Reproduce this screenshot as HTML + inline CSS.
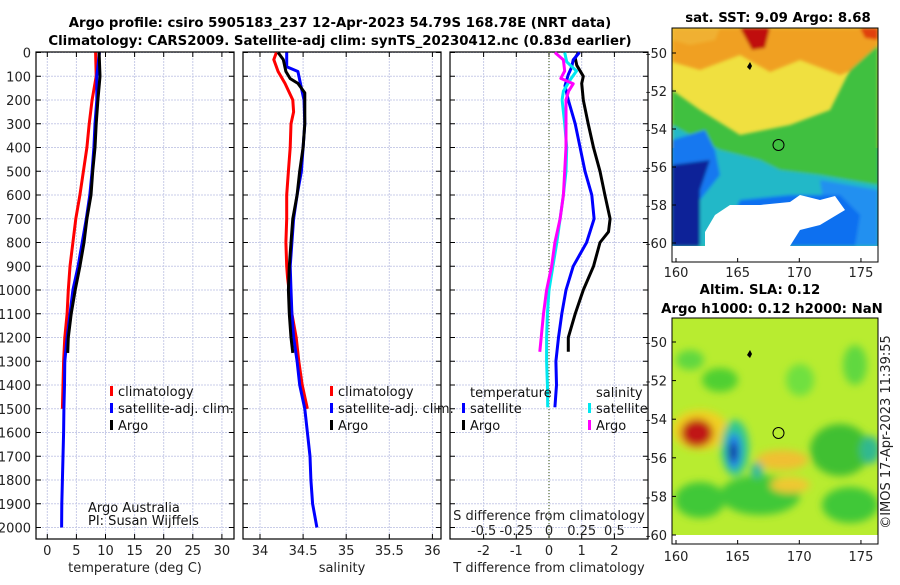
<!DOCTYPE html>
<html><head><meta charset="utf-8"><style>
body{margin:0;background:#fff;}
svg{font-family:"DejaVu Sans","Liberation Sans",sans-serif;}
.t{font-weight:bold;font-size:13.3px;fill:#000;}
.tk{font-size:13px;fill:#222;}
.lg{font-size:13px;fill:#111;}
</style></head><body>
<svg id="c" width="900" height="580" xmlns="http://www.w3.org/2000/svg">
<defs>
<filter id="bl" x="-20%" y="-20%" width="140%" height="140%"><feGaussianBlur stdDeviation="4"/></filter>
<filter id="bl2" x="-20%" y="-20%" width="140%" height="140%"><feGaussianBlur stdDeviation="1.5"/></filter>
<clipPath id="cm1"><rect x="672" y="28" width="206" height="218"/></clipPath>
<clipPath id="cm2"><rect x="672" y="318" width="206" height="217"/></clipPath>
</defs>
<text class="t" x="340" y="27" text-anchor="middle">Argo profile: csiro 5905183_237 12-Apr-2023 54.79S 168.78E (NRT data)</text>
<text class="t" x="340" y="45" text-anchor="middle">Climatology: CARS2009. Satellite-adj clim: synTS_20230412.nc (0.83d earlier)</text>
<g id="panels"></g>

<!-- Map 1 SST -->
<g>
<text class="t" x="778" y="22" text-anchor="middle" font-size="12.5">sat. SST: 9.09 Argo: 8.68</text>
<g clip-path="url(#cm1)">
<rect x="672" y="28" width="206" height="218" fill="#30c8a0"/>
<rect x="672" y="28" width="206" height="120" fill="#f0e040"/>
<g filter="url(#bl2)">
<polygon points="672,28 878,28 878,60 840,75 800,60 770,72 740,55 700,70 672,62" fill="#f0a020"/>
<polygon points="740,28 770,28 765,48 752,50" fill="#c01010"/>
<polygon points="672,28 720,28 715,40 690,45 672,40" fill="#f0b030"/>
<polygon points="860,28 878,28 878,40 865,38" fill="#e04010"/>
<polygon points="672,90 700,110 740,135 790,125 830,110 850,70 878,45 878,200 672,200" fill="#40c040"/>
<polygon points="672,125 700,140 720,150 760,160 780,170 820,175 878,185 878,246 672,246" fill="#20b8c8"/>
<polygon points="672,140 705,130 715,150 720,175 700,200 690,246 672,246" fill="#1878f0"/>
<polygon points="672,165 710,160 700,190 700,246 672,246" fill="#082098"/>
<polygon points="820,180 878,190 878,246 830,246" fill="#2090f0"/>
<polygon points="740,200 790,195 840,195 860,215 855,246 720,246" fill="#1070f0"/>
</g>
<polygon points="715,215 730,205 760,205 790,202 800,195 820,200 835,196 845,210 820,225 800,230 790,246 705,246 705,232" fill="#ffffff"/>
<path d="M750,62 l2,4 l-2,4 l-3,-3z" fill="#000"/>
<circle cx="778.5" cy="145" r="5.5" fill="none" stroke="#000" stroke-width="1"/>
</g>
<rect x="672" y="28" width="206" height="234" fill="none" stroke="#000" stroke-width="1"/>
<g id="m1ax"></g>
</g>

<!-- Map 2 SLA -->
<g>
<text class="t" x="760" y="294" text-anchor="middle" font-size="12.5">Altim. SLA: 0.12</text>
<text class="t" x="772" y="313" text-anchor="middle" font-size="12">Argo h1000: 0.12 h2000: NaN</text>
<g clip-path="url(#cm2)">
<rect x="672" y="318" width="206" height="217" fill="#b8ec30"/>
<g filter="url(#bl)">
<ellipse cx="690" cy="360" rx="14" ry="10" fill="#60d840"/>
<ellipse cx="720" cy="380" rx="18" ry="12" fill="#50d030"/>
<ellipse cx="800" cy="380" rx="14" ry="16" fill="#70e040"/>
<ellipse cx="855" cy="365" rx="12" ry="20" fill="#60d840"/>
<ellipse cx="700" cy="430" rx="28" ry="20" fill="#f0d020"/>
<ellipse cx="697" cy="433" rx="16" ry="14" fill="#c01818"/>
<ellipse cx="735" cy="448" rx="14" ry="28" fill="#30c890"/>
<ellipse cx="734" cy="451" rx="7" ry="18" fill="#2080f0"/>
<ellipse cx="733" cy="452" rx="4" ry="10" fill="#102890"/>
<ellipse cx="782" cy="460" rx="26" ry="10" fill="#f0c030"/>
<ellipse cx="840" cy="450" rx="30" ry="26" fill="#40c030"/>
<ellipse cx="870" cy="450" rx="10" ry="14" fill="#30b890"/>
<ellipse cx="760" cy="495" rx="40" ry="20" fill="#40c838"/>
<ellipse cx="790" cy="485" rx="20" ry="8" fill="#f0c830"/>
<ellipse cx="850" cy="505" rx="28" ry="18" fill="#40c838"/>
<ellipse cx="700" cy="500" rx="25" ry="18" fill="#40c838"/>
<ellipse cx="757" cy="470" rx="6" ry="8" fill="#30b8a0"/>
</g>
<path d="M750,350 l2,4 l-2,4 l-3,-3z" fill="#000"/>
<circle cx="778.5" cy="433" r="5.5" fill="none" stroke="#000" stroke-width="1"/>
</g>
<rect x="672" y="318" width="206" height="226" fill="none" stroke="#000" stroke-width="1"/>
<g id="m2ax"></g>
</g>
<text x="890" y="432" font-size="13" fill="#222" text-anchor="middle" transform="rotate(-90 890 432)">©IMOS 17-Apr-2023 11:39:55</text>
</svg>
<script>
const NS='http://www.w3.org/2000/svg';
const svg=document.getElementById('c');
const P=document.getElementById('panels');
function mk(tag,attrs,parent){const e=document.createElementNS(NS,tag);for(const k in attrs)e.setAttribute(k,attrs[k]);(parent||P).appendChild(e);return e;}

// ---- data ----
const depthTicks=[0,100,200,300,400,500,600,700,800,900,1000,1100,1200,1300,1400,1500,1600,1700,1800,1900,2000];
const tempTicks=[0,5,10,15,20,25,30];
const salTicks=[34,34.5,35,35.5,36];
const salTickLabels=['34','34.5','35','35.5','36'];
const tdiffTicks=[-2,-1,0,1,2];
const sdiffTicks=[-0.5,-0.25,0,0.25,0.5];
const sdiffLabels=['-0.5','-0.25','0','0.25','0.5'];

const argoTD=[0,100,200,300,400,500,600,700,800,900,1000,1100,1200,1265];
const argoT=[8.9,9.05,8.7,8.4,8.2,7.8,7.5,6.8,6.3,5.6,4.8,4.1,3.6,3.5];
const satTD=[0,100,200,300,400,500,600,700,800,900,1000,1100,1200,1300,1400,1500,1600,1700,1800,1900,2000];
const satT=[8.95,8.5,8.5,8.2,8.0,7.7,7.3,6.7,6.0,5.3,4.4,3.9,3.4,3.0,2.95,2.85,2.8,2.7,2.6,2.5,2.45];
const climTD=[0,100,200,300,400,500,600,700,800,900,1000,1100,1200,1300,1400,1500];
const climT=[8.3,8.4,7.7,7.2,6.8,6.2,5.6,4.9,4.4,3.9,3.6,3.4,3.0,2.8,2.7,2.6];

const argoSD=[0,30,80,110,130,170,300,400,500,600,700,800,900,1000,1100,1200,1265];
const argoS=[34.21,34.27,34.30,34.35,34.44,34.52,34.52,34.50,34.46,34.43,34.38,34.36,34.34,34.33,34.34,34.36,34.38];
const satSD=[0,60,80,150,200,300,400,500,600,700,800,900,1000,1100,1200,1300,1400,1500,1600,1700,1800,1900,2000];
const satS=[34.31,34.31,34.44,34.48,34.51,34.52,34.50,34.48,34.43,34.39,34.37,34.35,34.36,34.37,34.39,34.43,34.46,34.52,34.55,34.58,34.59,34.61,34.66];
const climSD=[0,30,80,130,200,250,300,400,500,600,700,800,900,950,1100,1200,1300,1400,1500];
const climS=[34.19,34.16,34.21,34.29,34.38,34.39,34.36,34.35,34.33,34.31,34.31,34.30,34.31,34.32,34.37,34.42,34.45,34.49,34.55];

const argoTdD=[0,23,54,100,130,200,300,400,500,600,700,755,800,900,1000,1100,1200,1260];
const argoTd=[0.9,0.8,0.85,1.05,1.0,1.05,1.2,1.36,1.56,1.71,1.87,1.82,1.56,1.36,1.05,0.8,0.59,0.59];
const satTdD=[0,31,62,93,140,200,300,400,500,600,700,800,900,1000,1100,1200,1300,1400,1494];
const satTd=[0.93,0.74,0.69,0.59,0.49,0.59,0.8,0.95,1.1,1.31,1.38,1.15,0.74,0.52,0.39,0.29,0.21,0.23,0.18];
const satSdD=[0,39,78,117,163,200,300,400,500,600,700,800,900,1000,1100,1200,1300,1400,1494];
const satSd=[0.12,0.135,0.21,0.16,0.11,0.1,0.12,0.135,0.13,0.11,0.085,0.06,0.03,0.0,-0.012,-0.018,-0.018,-0.012,-0.01];
const argoSdD=[0,31,78,109,132,163,200,300,400,500,600,700,800,900,1000,1100,1200,1260];
const argoSd=[0.045,0.11,0.12,0.09,0.185,0.15,0.13,0.13,0.13,0.12,0.11,0.085,0.045,0.02,-0.018,-0.042,-0.06,-0.07];

const mapLonTicks=[160,165,170,175];
const map1LatTicks=[-50,-52,-54,-56,-58,-60];
const map2LatTicks=[-50,-52,-54,-56,-58,-60];

// ---- axes ----
const Y0=52.5,YK=0.2375;
const yD=d=>Y0+d*YK;
const TOP=52,BOT=539;
const xT=v=>47.3+v*5.82;
const xS=v=>260+(v-34)*86.2;
const xTd=v=>549+v*32.7;
const xSd=v=>549+v*4*32.7;

function panel(name,x0,x1,ticks,fx,labels){
  const g=mk('g',{});
  
  
  ticks.forEach(t=>{mk('line',{x1:fx(t),x2:fx(t),y1:TOP,y2:BOT,stroke:'#c8cce8','stroke-dasharray':'2,1','stroke-width':1},g);});
  depthTicks.forEach(d=>{mk('line',{x1:x0,x2:x1,y1:yD(d),y2:yD(d),stroke:'#c8cce8','stroke-dasharray':'2,1','stroke-width':1},g);
    mk('line',{x1:x0,x2:x0+5,y1:yD(d),y2:yD(d),stroke:'#000'},g);mk('line',{x1:x1-5,x2:x1,y1:yD(d),y2:yD(d),stroke:'#000'},g);});
  ticks.forEach((t,i)=>{mk('line',{x1:fx(t),x2:fx(t),y1:BOT,y2:BOT-5,stroke:'#000'},g);mk('line',{x1:fx(t),x2:fx(t),y1:TOP,y2:TOP+5,stroke:'#000'},g);
    if(labels){const tx=mk('text',{x:fx(t),y:BOT+16,'text-anchor':'middle',class:'tk'},g);tx.textContent=labels[i];
      
      }});
  mk('rect',{x:x0,y:TOP,width:x1-x0,height:BOT-TOP,fill:'none',stroke:'#000','stroke-width':1.2},g);
  return g;
}
function line(xs,ds,fx,color,name,w){
  const pts=xs.map((v,i)=>fx(v).toFixed(1)+','+yD(ds[i]).toFixed(1)).join(' ');
  const l=mk('polyline',{points:pts,fill:'none',stroke:color,'stroke-width':w||3,'stroke-linejoin':'round'});
  
  
}
function txt(x,y,s,cls,name,anchor){const t=mk('text',{x:x,y:y,class:cls,'text-anchor':anchor||'start'});t.textContent=s;
  
  return t;}

panel('temperature',36,234,tempTicks,xT,tempTicks.map(String));
panel('salinity',243,441,salTicks,xS,salTickLabels);
panel('difference',450,648,tdiffTicks,xTd,tdiffTicks.map(String));
mk('line',{x1:549,x2:549,y1:TOP,y2:BOT,stroke:'#556b2f','stroke-dasharray':'1,2','stroke-width':1.2});
depthTicks.forEach(d=>{txt(31,yD(d)+5,String(d),'tk','depth-tick-label','end');});

line(climT,climTD,xT,'#ff0000','temp-climatology-line');
line(satT,satTD,xT,'#0000ff','temp-satellite-line');
line(argoT,argoTD,xT,'#000000','temp-argo-line');
line(climS,climSD,xS,'#ff0000','sal-climatology-line');
line(satS,satSD,xS,'#0000ff','sal-satellite-line');
line(argoS,argoSD,xS,'#000000','sal-argo-line');
line(argoTd,argoTdD,xTd,'#000000','tdiff-argo-line');
line(satTd,satTdD,xTd,'#0000ff','tdiff-satellite-line');
line(satSd,satSdD,xSd,'#00e8f0','sdiff-satellite-line');
line(argoSd,argoSdD,xSd,'#ff00ff','sdiff-argo-line');

txt(135,572,'temperature (deg C)','tk','temperature-axis-title','middle');
txt(342,572,'salinity','tk','salinity-axis-title','middle');
txt(549,572,'T difference from climatology','tk','tdiff-axis-title','middle');
txt(549,520,'S difference from climatology','tk','sdiff-axis-title','middle');
sdiffTicks.forEach((s,i)=>{txt(xSd(s),535,sdiffLabels[i],'tk','sdiff-tick-label','middle');});

function legMark(x,y,c,name){const r=mk('rect',{x:x,y:y-10,width:3,height:10,fill:c});
  
  }
[[110,118],[330,338]].forEach(([mx,tx])=>{
  legMark(mx,396,'#ff0000','legend-marker-climatology');txt(tx,396,'climatology','lg','legend-climatology');
  legMark(mx,413,'#0000ff','legend-marker-satellite');txt(tx,413,'satellite-adj. clim.','lg','legend-satellite-adj');
  legMark(mx,430,'#000000','legend-marker-argo');txt(tx,430,'Argo','lg','legend-argo');
});
txt(470,397,'temperature','lg','legend-temperature-header');
txt(596,397,'salinity','lg','legend-salinity-header');
legMark(462,413,'#0000ff','legend-marker-t-satellite');txt(470,413,'satellite','lg','legend-t-satellite');
legMark(462,430,'#000000','legend-marker-t-argo');txt(470,430,'Argo','lg','legend-t-argo');
legMark(588,413,'#00e8f0','legend-marker-s-satellite');txt(596,413,'satellite','lg','legend-s-satellite');
legMark(588,430,'#ff00ff','legend-marker-s-argo');txt(596,430,'Argo','lg','legend-s-argo');
const a1=txt(88,512,'Argo Australia','lg','credit-argo-australia');a1.setAttribute('font-size','10.5');
const a2=txt(88,525,'PI: Susan Wijffels','lg','credit-pi');a2.setAttribute('font-size','10.5');

// map axes
const lonX=v=>676+(v-160)*12.33;
function mapAx(gid,latTicks,latY,boxBot,labY){
  const g=document.getElementById(gid);
  mapLonTicks.forEach(l=>{mk('line',{x1:lonX(l),x2:lonX(l),y1:boxBot,y2:boxBot-4,stroke:'#000'},g);
    const t=mk('text',{x:lonX(l),y:labY,'text-anchor':'middle',class:'tk'},g);t.textContent=String(l);
    
    });
  latTicks.forEach(l=>{mk('line',{x1:672,x2:676,y1:latY(l),y2:latY(l),stroke:'#000'},g);
    const t=mk('text',{x:667,y:latY(l)+5,'text-anchor':'end',class:'tk'},g);t.textContent=String(l);
    
    });
}
mapAx('m1ax',map1LatTicks,l=>53+(-50-l)*19,262,277);
mapAx('m2ax',map2LatTicks,l=>342+(-50-l)*19.3,544,561);
</script>
</body></html>
